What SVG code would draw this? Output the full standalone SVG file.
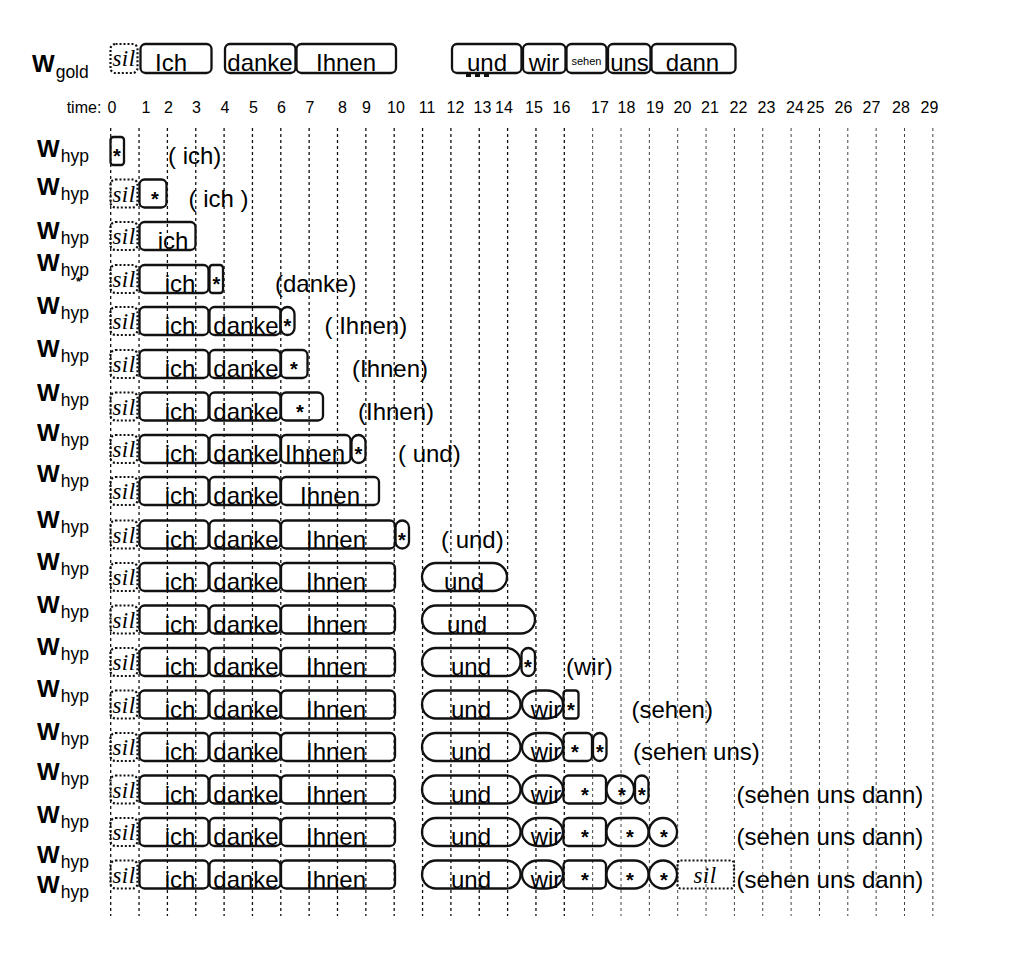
<svg xmlns="http://www.w3.org/2000/svg" width="1012" height="960" viewBox="0 0 1012 960">
<style>
.b{fill:none;stroke:#111;stroke-width:2.3}
.d{fill:none;stroke:#111;stroke-width:2.2;stroke-dasharray:2 2}
.g{stroke:#111;stroke-width:1.3;stroke-dasharray:3 3}
.g2{stroke:#444;stroke-width:1;stroke-dasharray:3 3}
.t{font-family:"Liberation Sans",Arial,sans-serif;font-size:24px;fill:#000}
.c{text-anchor:middle}
.s{font-family:"Liberation Serif","Times New Roman",serif;font-style:italic;font-size:23px;letter-spacing:0.5px;text-anchor:middle;fill:#000}
.st{font-family:"Liberation Sans",Arial,sans-serif;font-size:20px;font-weight:bold;text-anchor:middle;fill:#000}
.W{font-family:"Liberation Sans",Arial,sans-serif;font-size:24px;font-weight:bold;fill:#000}
.sub{font-family:"Liberation Sans",Arial,sans-serif;font-size:17.5px;fill:#000}
.tm{font-family:"Liberation Sans",Arial,sans-serif;font-size:16px;fill:#000;text-anchor:middle}
</style>
<rect width="1012" height="960" fill="#fff"/>

<g id="grid">
<line class="g" x1="110.7" y1="128" x2="110.7" y2="916"/>
<line class="g" x1="139.05" y1="128" x2="139.05" y2="916"/>
<line class="g" x1="167.4" y1="128" x2="167.4" y2="916"/>
<line class="g" x1="195.75" y1="128" x2="195.75" y2="916"/>
<line class="g" x1="224.1" y1="128" x2="224.1" y2="916"/>
<line class="g" x1="252.45" y1="128" x2="252.45" y2="916"/>
<line class="g" x1="280.8" y1="128" x2="280.8" y2="916"/>
<line class="g" x1="309.15" y1="128" x2="309.15" y2="916"/>
<line class="g" x1="337.5" y1="128" x2="337.5" y2="916"/>
<line class="g" x1="365.85" y1="128" x2="365.85" y2="916"/>
<line class="g" x1="394.2" y1="128" x2="394.2" y2="916"/>
<line class="g" x1="422.55" y1="128" x2="422.55" y2="916"/>
<line class="g" x1="450.9" y1="128" x2="450.9" y2="916"/>
<line class="g" x1="479.25" y1="128" x2="479.25" y2="916"/>
<line class="g" x1="507.6" y1="128" x2="507.6" y2="916"/>
<line class="g" x1="535.95" y1="128" x2="535.95" y2="916"/>
<line class="g" x1="564.3" y1="128" x2="564.3" y2="916"/>
<line class="g2" x1="592.65" y1="128" x2="592.65" y2="916"/>
<line class="g2" x1="621" y1="128" x2="621" y2="916"/>
<line class="g2" x1="649.35" y1="128" x2="649.35" y2="916"/>
<line class="g2" x1="677.7" y1="128" x2="677.7" y2="916"/>
<line class="g2" x1="706.05" y1="128" x2="706.05" y2="916"/>
<line class="g2" x1="734.4" y1="128" x2="734.4" y2="916"/>
<line class="g2" x1="762.75" y1="128" x2="762.75" y2="916"/>
<line class="g2" x1="791.1" y1="128" x2="791.1" y2="916"/>
<line class="g2" x1="819.45" y1="128" x2="819.45" y2="916"/>
<line class="g2" x1="847.8" y1="128" x2="847.8" y2="916"/>
<line class="g2" x1="876.15" y1="128" x2="876.15" y2="916"/>
<line class="g2" x1="904.5" y1="128" x2="904.5" y2="916"/>
<line class="g2" x1="932.85" y1="128" x2="932.85" y2="916"/>
</g>

<g id="time-axis">
<text class="tm" x="84" y="113">time:</text>
<text class="tm" x="112" y="113">0</text>
<text class="tm" x="146" y="113">1</text>
<text class="tm" x="168.5" y="113">2</text>
<text class="tm" x="196.5" y="113">3</text>
<text class="tm" x="225" y="113">4</text>
<text class="tm" x="253.5" y="113">5</text>
<text class="tm" x="281.5" y="113">6</text>
<text class="tm" x="310" y="113">7</text>
<text class="tm" x="342.5" y="113">8</text>
<text class="tm" x="366.5" y="113">9</text>
<text class="tm" x="396" y="113">10</text>
<text class="tm" x="427" y="113">11</text>
<text class="tm" x="455.5" y="113">12</text>
<text class="tm" x="482.5" y="113">13</text>
<text class="tm" x="504" y="113">14</text>
<text class="tm" x="534" y="113">15</text>
<text class="tm" x="561.5" y="113">16</text>
<text class="tm" x="600" y="113">17</text>
<text class="tm" x="626.5" y="113">18</text>
<text class="tm" x="655" y="113">19</text>
<text class="tm" x="682.5" y="113">20</text>
<text class="tm" x="710" y="113">21</text>
<text class="tm" x="738.5" y="113">22</text>
<text class="tm" x="766.5" y="113">23</text>
<text class="tm" x="795" y="113">24</text>
<text class="tm" x="815.5" y="113">25</text>
<text class="tm" x="843.5" y="113">26</text>
<text class="tm" x="871.5" y="113">27</text>
<text class="tm" x="901" y="113">28</text>
<text class="tm" x="929.5" y="113">29</text>
</g>

<g id="labels">
<text x="32" y="72"><tspan class="W">W</tspan><tspan class="sub" dx="1" dy="6">gold</tspan></text>
<text x="37" y="157"><tspan class="W">W</tspan><tspan class="sub" dx="1" dy="5">hyp</tspan></text>
<text x="37" y="195"><tspan class="W">W</tspan><tspan class="sub" dx="1" dy="5">hyp</tspan></text>
<text x="37" y="239"><tspan class="W">W</tspan><tspan class="sub" dx="1" dy="5">hyp</tspan></text>
<text x="37" y="271"><tspan class="W">W</tspan><tspan class="sub" dx="1" dy="5">hyp</tspan></text>
<text x="76" y="286" style="font-family:'Liberation Sans',Arial,sans-serif;font-size:13px;font-weight:bold">*</text>
<text x="37" y="314"><tspan class="W">W</tspan><tspan class="sub" dx="1" dy="5">hyp</tspan></text>
<text x="37" y="357"><tspan class="W">W</tspan><tspan class="sub" dx="1" dy="5">hyp</tspan></text>
<text x="37" y="401"><tspan class="W">W</tspan><tspan class="sub" dx="1" dy="5">hyp</tspan></text>
<text x="37" y="441"><tspan class="W">W</tspan><tspan class="sub" dx="1" dy="5">hyp</tspan></text>
<text x="37" y="482"><tspan class="W">W</tspan><tspan class="sub" dx="1" dy="5">hyp</tspan></text>
<text x="37" y="528"><tspan class="W">W</tspan><tspan class="sub" dx="1" dy="5">hyp</tspan></text>
<text x="37" y="570"><tspan class="W">W</tspan><tspan class="sub" dx="1" dy="5">hyp</tspan></text>
<text x="37" y="613"><tspan class="W">W</tspan><tspan class="sub" dx="1" dy="5">hyp</tspan></text>
<text x="37" y="655"><tspan class="W">W</tspan><tspan class="sub" dx="1" dy="5">hyp</tspan></text>
<text x="37" y="697"><tspan class="W">W</tspan><tspan class="sub" dx="1" dy="5">hyp</tspan></text>
<text x="37" y="740"><tspan class="W">W</tspan><tspan class="sub" dx="1" dy="5">hyp</tspan></text>
<text x="37" y="780"><tspan class="W">W</tspan><tspan class="sub" dx="1" dy="5">hyp</tspan></text>
<text x="37" y="823"><tspan class="W">W</tspan><tspan class="sub" dx="1" dy="5">hyp</tspan></text>
<text x="37" y="863"><tspan class="W">W</tspan><tspan class="sub" dx="1" dy="5">hyp</tspan></text>
<text x="37" y="893"><tspan class="W">W</tspan><tspan class="sub" dx="1" dy="5">hyp</tspan></text>
</g>

<g id="gold">
<rect class="d" x="110.5" y="44" width="27" height="29" rx="5"/><text class="s" x="124" y="66">sil</text>
<rect class="b" x="140.5" y="44" width="71" height="29" rx="5"/><text class="t c" x="171" y="71">Ich</text>
<rect class="b" x="225" y="44" width="70.5" height="29" rx="5"/><text class="t c" x="260" y="71">danke</text>
<rect class="b" x="296.5" y="44" width="99.5" height="29" rx="5"/><text class="t c" x="346" y="71">Ihnen</text>
<rect class="b" x="452" y="44" width="69.5" height="29" rx="5"/><text class="t c" x="487" y="71">und</text>
<line x1="466" y1="75" x2="491" y2="75" stroke="#111" stroke-width="4" stroke-dasharray="5 4"/>
<rect class="b" x="523" y="44" width="42.5" height="29" rx="5"/><text class="t c" x="544" y="71">wir</text>
<rect class="b" x="566.5" y="44" width="40" height="29" rx="5"/><text x="586.5" y="65" style="font-family:'Liberation Sans',Arial,sans-serif;font-size:11px;text-anchor:middle">sehen</text>
<rect class="b" x="608" y="44" width="42.5" height="29" rx="5"/><text class="t c" x="629.5" y="71">uns</text>
<rect class="b" x="651.5" y="44" width="84" height="29" rx="5"/><text class="t c" x="692.5" y="71">dann</text>
</g>

<g id="hyp1">
<rect class="b" x="110.5" y="137" width="13.5" height="28" rx="3"/><text class="st" x="117" y="163">*</text>
<text class="t" x="168" y="164">( ich)</text>
</g>

<g id="hyp2">
<rect class="d" x="110.5" y="179.5" width="27" height="28" rx="5"/><text class="s" x="124" y="201.5">sil</text>
<rect class="b" x="139.5" y="179.5" width="27" height="28" rx="5"/><text class="st" x="155" y="205.5">*</text>
<text class="t" x="188.5" y="206.5">( ich )</text>
</g>

<g id="hyp3">
<rect class="d" x="110.5" y="222" width="27" height="28" rx="5"/><text class="s" x="124" y="244">sil</text>
<rect class="b" x="139.5" y="222" width="56" height="28" rx="5"/><text class="t c" x="173" y="249">ich</text>
</g>

<g id="hyp4">
<rect class="d" x="110.5" y="265" width="27" height="28" rx="5"/><text class="s" x="124" y="287">sil</text>
<rect class="b" x="139.5" y="265" width="69" height="28" rx="5"/><text class="t c" x="180" y="292">ich</text>
<rect class="b" x="209.5" y="265" width="13.5" height="28" rx="3"/><text class="st" x="216.5" y="291">*</text>
<text class="t" x="275" y="292">(danke)</text>
</g>

<g id="hyp5">
<rect class="d" x="110.5" y="307" width="27" height="28" rx="5"/><text class="s" x="124" y="329">sil</text>
<rect class="b" x="139.5" y="307" width="69" height="28" rx="5"/><text class="t c" x="180" y="334">ich</text>
<rect class="b" x="209.5" y="307" width="71" height="28" rx="5"/><text class="t c" x="246" y="334">danke</text>
<rect class="b" x="280.5" y="307" width="14" height="28" rx="7"/><text class="st" x="287.5" y="333">*</text>
<text class="t" x="324.5" y="334">( Ihnen)</text>
</g>

<g id="hyp6">
<rect class="d" x="110.5" y="350" width="27" height="28" rx="5"/><text class="s" x="124" y="372">sil</text>
<rect class="b" x="139.5" y="350" width="69" height="28" rx="5"/><text class="t c" x="180" y="377">ich</text>
<rect class="b" x="209.5" y="350" width="71" height="28" rx="5"/><text class="t c" x="246" y="377">danke</text>
<rect class="b" x="281" y="350" width="26.5" height="28" rx="5"/><text class="st" x="294" y="376">*</text>
<text class="t" x="352" y="377">(Ihnen)</text>
</g>

<g id="hyp7">
<rect class="d" x="110.5" y="392.5" width="27" height="28" rx="5"/><text class="s" x="124" y="414.5">sil</text>
<rect class="b" x="139.5" y="392.5" width="69" height="28" rx="5"/><text class="t c" x="180" y="419.5">ich</text>
<rect class="b" x="209.5" y="392.5" width="71" height="28" rx="5"/><text class="t c" x="246" y="419.5">danke</text>
<rect class="b" x="281" y="392.5" width="42" height="28" rx="5"/><text class="st" x="300" y="418.5">*</text>
<text class="t" x="358" y="419.5">(Ihnen)</text>
</g>

<g id="hyp8">
<rect class="d" x="110.5" y="435" width="27" height="28" rx="5"/><text class="s" x="124" y="457">sil</text>
<rect class="b" x="139.5" y="435" width="69" height="28" rx="5"/><text class="t c" x="180" y="462">ich</text>
<rect class="b" x="209.5" y="435" width="71" height="28" rx="5"/><text class="t c" x="246" y="462">danke</text>
<rect class="b" x="281" y="435" width="69.5" height="28" rx="5"/><text class="t c" x="315" y="462">Ihnen</text>
<rect class="b" x="351.5" y="435" width="14" height="28" rx="7"/><text class="st" x="358.5" y="461">*</text>
<text class="t" x="398" y="462">( und)</text>
</g>

<g id="hyp9">
<rect class="d" x="110.5" y="477" width="27" height="28" rx="5"/><text class="s" x="124" y="499">sil</text>
<rect class="b" x="139.5" y="477" width="69" height="28" rx="5"/><text class="t c" x="180" y="504">ich</text>
<rect class="b" x="209.5" y="477" width="71" height="28" rx="5"/><text class="t c" x="246" y="504">danke</text>
<rect class="b" x="281" y="477" width="98" height="28" rx="5"/><text class="t c" x="330" y="504">Ihnen</text>
</g>

<g id="hyp10">
<rect class="d" x="110.5" y="520.5" width="27" height="28" rx="5"/><text class="s" x="124" y="542.5">sil</text>
<rect class="b" x="139.5" y="520.5" width="69" height="28" rx="5"/><text class="t c" x="180" y="547.5">ich</text>
<rect class="b" x="209.5" y="520.5" width="71" height="28" rx="5"/><text class="t c" x="246" y="547.5">danke</text>
<rect class="b" x="281" y="520.5" width="114" height="28" rx="5"/><text class="t c" x="336" y="547.5">Ihnen</text>
<rect class="b" x="395.5" y="520.5" width="13.5" height="28" rx="6.75"/><text class="st" x="402" y="546.5">*</text>
<text class="t" x="441" y="547.5">( und)</text>
</g>

<g id="hyp11">
<rect class="d" x="110.5" y="563" width="27" height="28" rx="5"/><text class="s" x="124" y="585">sil</text>
<rect class="b" x="139.5" y="563" width="69" height="28" rx="5"/><text class="t c" x="180" y="590">ich</text>
<rect class="b" x="209.5" y="563" width="71" height="28" rx="5"/><text class="t c" x="246" y="590">danke</text>
<rect class="b" x="281" y="563" width="114" height="28" rx="5"/><text class="t c" x="336" y="590">Ihnen</text>
<rect class="b" x="422" y="563" width="85" height="28" rx="14"/><text class="t c" x="464" y="590">und</text>
</g>

<g id="hyp12">
<rect class="d" x="110.5" y="605.5" width="27" height="28" rx="5"/><text class="s" x="124" y="627.5">sil</text>
<rect class="b" x="139.5" y="605.5" width="69" height="28" rx="5"/><text class="t c" x="180" y="632.5">ich</text>
<rect class="b" x="209.5" y="605.5" width="71" height="28" rx="5"/><text class="t c" x="246" y="632.5">danke</text>
<rect class="b" x="281" y="605.5" width="114" height="28" rx="5"/><text class="t c" x="336" y="632.5">Ihnen</text>
<rect class="b" x="422" y="605.5" width="113" height="28" rx="14"/><text class="t c" x="467" y="632.5">und</text>
</g>

<g id="hyp13">
<rect class="d" x="110.5" y="648" width="27" height="28" rx="5"/><text class="s" x="124" y="670">sil</text>
<rect class="b" x="139.5" y="648" width="69" height="28" rx="5"/><text class="t c" x="180" y="675">ich</text>
<rect class="b" x="209.5" y="648" width="71" height="28" rx="5"/><text class="t c" x="246" y="675">danke</text>
<rect class="b" x="281" y="648" width="114" height="28" rx="5"/><text class="t c" x="336" y="675">Ihnen</text>
<rect class="b" x="422" y="648" width="98.5" height="28" rx="14"/><text class="t c" x="471" y="675">und</text>
<rect class="b" x="521.5" y="648" width="13.5" height="28" rx="6.75"/><text class="st" x="528" y="674">*</text>
<text class="t" x="566" y="675">(wir)</text>
</g>

<g id="hyp14">
<rect class="d" x="110.5" y="690.5" width="27" height="28" rx="5"/><text class="s" x="124" y="712.5">sil</text>
<rect class="b" x="139.5" y="690.5" width="69" height="28" rx="5"/><text class="t c" x="180" y="717.5">ich</text>
<rect class="b" x="209.5" y="690.5" width="71" height="28" rx="5"/><text class="t c" x="246" y="717.5">danke</text>
<rect class="b" x="281" y="690.5" width="114" height="28" rx="5"/><text class="t c" x="336" y="717.5">Ihnen</text>
<rect class="b" x="422" y="690.5" width="98.5" height="28" rx="14"/><text class="t c" x="471" y="717.5">und</text>
<rect class="b" x="522" y="690.5" width="41" height="28" rx="16" ry="14"/><text class="t c" x="546" y="717.5">wir</text>
<rect class="b" x="563.5" y="690.5" width="15" height="28" rx="3"/><text class="st" x="571" y="716.5">*</text>
<text class="t" x="631.5" y="717.5">(sehen)</text>
</g>

<g id="hyp15">
<rect class="d" x="110.5" y="733" width="27" height="28" rx="5"/><text class="s" x="124" y="755">sil</text>
<rect class="b" x="139.5" y="733" width="69" height="28" rx="5"/><text class="t c" x="180" y="760">ich</text>
<rect class="b" x="209.5" y="733" width="71" height="28" rx="5"/><text class="t c" x="246" y="760">danke</text>
<rect class="b" x="281" y="733" width="114" height="28" rx="5"/><text class="t c" x="336" y="760">Ihnen</text>
<rect class="b" x="422" y="733" width="98.5" height="28" rx="14"/><text class="t c" x="471" y="760">und</text>
<rect class="b" x="522" y="733" width="41" height="28" rx="16" ry="14"/><text class="t c" x="546" y="760">wir</text>
<rect class="b" x="563.5" y="733" width="28.5" height="28" rx="5"/><text class="st" x="575" y="759">*</text>
<rect class="b" x="593" y="733" width="13.5" height="28" rx="6.75"/><text class="st" x="600" y="759">*</text>
<text class="t" x="633" y="760">(sehen uns)</text>
</g>

<g id="hyp16">
<rect class="d" x="110.5" y="775.5" width="27" height="28" rx="5"/><text class="s" x="124" y="797.5">sil</text>
<rect class="b" x="139.5" y="775.5" width="69" height="28" rx="5"/><text class="t c" x="180" y="802.5">ich</text>
<rect class="b" x="209.5" y="775.5" width="71" height="28" rx="5"/><text class="t c" x="246" y="802.5">danke</text>
<rect class="b" x="281" y="775.5" width="114" height="28" rx="5"/><text class="t c" x="336" y="802.5">Ihnen</text>
<rect class="b" x="422" y="775.5" width="98.5" height="28" rx="14"/><text class="t c" x="471" y="802.5">und</text>
<rect class="b" x="522" y="775.5" width="41" height="28" rx="16" ry="14"/><text class="t c" x="546" y="802.5">wir</text>
<rect class="b" x="563.5" y="775.5" width="42.5" height="28" rx="5"/><text class="st" x="585" y="801.5">*</text>
<rect class="b" x="606.5" y="775.5" width="27.5" height="28" rx="13.75" ry="14"/><text class="st" x="622" y="801.5">*</text>
<rect class="b" x="635" y="775.5" width="13.5" height="28" rx="6.75"/><text class="st" x="642" y="801.5">*</text>
<text class="t" x="736.5" y="802.5">(sehen uns dann)</text>
</g>

<g id="hyp17">
<rect class="d" x="110.5" y="818" width="27" height="28" rx="5"/><text class="s" x="124" y="840">sil</text>
<rect class="b" x="139.5" y="818" width="69" height="28" rx="5"/><text class="t c" x="180" y="845">ich</text>
<rect class="b" x="209.5" y="818" width="71" height="28" rx="5"/><text class="t c" x="246" y="845">danke</text>
<rect class="b" x="281" y="818" width="114" height="28" rx="5"/><text class="t c" x="336" y="845">Ihnen</text>
<rect class="b" x="422" y="818" width="98.5" height="28" rx="14"/><text class="t c" x="471" y="845">und</text>
<rect class="b" x="522" y="818" width="41" height="28" rx="16" ry="14"/><text class="t c" x="546" y="845">wir</text>
<rect class="b" x="563.5" y="818" width="42.5" height="28" rx="5"/><text class="st" x="585" y="844">*</text>
<rect class="b" x="606.5" y="818" width="42" height="28" rx="14"/><text class="st" x="630" y="844">*</text>
<rect class="b" x="649" y="818" width="28" height="28" rx="14"/><text class="st" x="664" y="844">*</text>
<text class="t" x="736.5" y="845">(sehen uns dann)</text>
</g>

<g id="hyp18">
<rect class="d" x="110.5" y="860.5" width="27" height="28" rx="5"/><text class="s" x="124" y="882.5">sil</text>
<rect class="b" x="139.5" y="860.5" width="69" height="28" rx="5"/><text class="t c" x="180" y="887.5">ich</text>
<rect class="b" x="209.5" y="860.5" width="71" height="28" rx="5"/><text class="t c" x="246" y="887.5">danke</text>
<rect class="b" x="281" y="860.5" width="114" height="28" rx="5"/><text class="t c" x="336" y="887.5">Ihnen</text>
<rect class="b" x="422" y="860.5" width="98.5" height="28" rx="14"/><text class="t c" x="471" y="887.5">und</text>
<rect class="b" x="522" y="860.5" width="41" height="28" rx="16" ry="14"/><text class="t c" x="546" y="887.5">wir</text>
<rect class="b" x="563.5" y="860.5" width="42.5" height="28" rx="5"/><text class="st" x="585" y="886.5">*</text>
<rect class="b" x="606.5" y="860.5" width="42" height="28" rx="14"/><text class="st" x="630" y="886.5">*</text>
<rect class="b" x="649" y="860.5" width="28" height="28" rx="14"/><text class="st" x="664" y="886.5">*</text>
<rect class="d" x="677.5" y="860.5" width="56.5" height="28" rx="3"/><text class="s" x="705" y="882.5">sil</text>
<text class="t" x="736.5" y="887.5">(sehen uns dann)</text>
</g>
</svg>
